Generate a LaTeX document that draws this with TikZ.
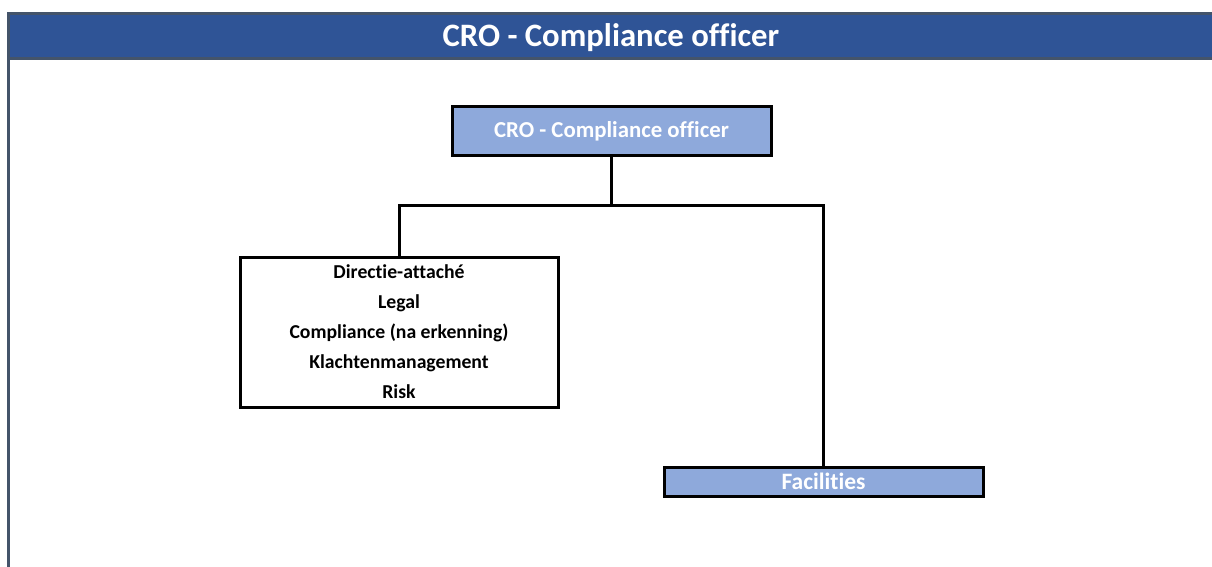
\documentclass[tikz,border=0pt]{standalone}
\usepackage{fontspec}
\setmainfont{Carlito}[Ligatures=NoCommon]
\usetikzlibrary{positioning}

\definecolor{headblue}{HTML}{2F5496}
\definecolor{headedge}{HTML}{44546A}
\definecolor{boxblue}{HTML}{8EA9DB}

\begin{document}
\begin{tikzpicture}[x=1pt, y=-1pt,
	unitbox/.style={draw=black, line width=3pt, inner sep=0pt, font=\bfseries},
	bluebox/.style={unitbox, fill=boxblue, text=white},
	link/.style={draw=black, line width=3pt}]
	\useasboundingbox (0,0) rectangle (1212,567);

	% header bar
	\fill[headblue] (8.5,13.5) rectangle (1213,59);
	\draw[headedge, line width=3pt] (1213,13.5) -- (8.5,13.5) -- (8.5,567);
	\draw[headedge, line width=3pt] (8.5,59) -- (1213,59);
	\node[text=white, font=\bfseries\fontsize{32.7}{36}\selectfont] (title) at (611,38) {CRO - Compliance officer};

	% boxes
	\node[bluebox, minimum width=319pt, minimum height=48pt, font=\bfseries\fontsize{22.8}{26}\selectfont] (cro) at (611.5,131) {CRO - Compliance officer};
	\node[unitbox, fill=white, minimum width=318pt, minimum height=150pt, align=center,
		font=\bfseries\fontsize{19.7}{30}\selectfont] (staff) at (399,332)
		{Directie-attaché\\Legal\\Compliance (na erkenning)\\Klachtenmanagement\\Risk};
	\node[bluebox, minimum width=319pt, minimum height=29pt, font=\bfseries\fontsize{23.5}{26}\selectfont] (fac) at (823.5,481.5) {Facilities};

	% connectors
	\coordinate (split) at (611.5,205);
	\draw[link] (cro.south) -- (split);
	\draw[link] (split) -| (staff.north);
	\draw[link] (split) -| (fac.north);
\end{tikzpicture}
\end{document}
